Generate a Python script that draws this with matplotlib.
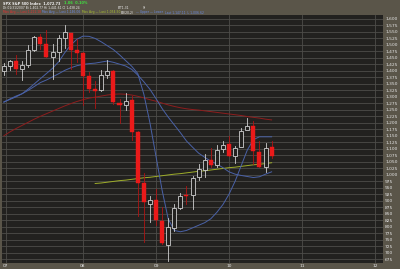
import matplotlib
matplotlib.use("Agg")
import matplotlib.pyplot as plt
from matplotlib.patches import Rectangle

# monthly bars, Dec 2006 .. Aug 2010 (index 0 = Dec 2006)
opens = [1400.6, 1418.0, 1437.9, 1406.8, 1420.8, 1482.4, 1530.6, 1504.7, 1455.2, 1474.0, 1527.3, 1545.8, 1479.6,
         1468.0, 1378.6, 1330.5, 1326.4, 1386.0, 1399.6, 1276.7, 1269.4, 1287.8, 1164.2, 968.7, 888.6,
         903.0, 823.1, 729.6, 793.6, 872.7, 923.3, 920.8, 990.2, 1019.5, 1054.9, 1036.2, 1098.9,
         1116.6, 1073.9, 1105.4, 1171.2, 1188.6, 1087.3, 1031.1, 1107.5]
highs = [1431.8, 1441.6, 1461.6, 1438.9, 1498.0, 1535.6, 1540.6, 1555.9, 1503.9, 1538.7, 1576.1, 1545.8, 1523.6,
         1471.8, 1396.0, 1359.7, 1404.6, 1440.2, 1404.1, 1292.2, 1313.2, 1303.0, 1167.0, 1007.5, 918.9,
         943.9, 875.0, 833.0, 888.7, 930.2, 956.2, 996.7, 1039.5, 1080.2, 1101.4, 1113.7, 1130.4,
         1150.5, 1112.4, 1180.7, 1219.8, 1205.1, 1131.2, 1121.0, 1129.2]
lows = [1385.9, 1404.0, 1389.4, 1364.0, 1416.4, 1476.7, 1484.2, 1454.3, 1370.6, 1439.3, 1489.6, 1406.1, 1435.7,
        1270.1, 1316.8, 1257.0, 1324.4, 1373.1, 1272.0, 1200.4, 1248.6, 1133.5, 839.8, 741.0, 815.7,
        804.2, 734.5, 666.8, 783.3, 866.1, 888.9, 869.3, 978.5, 992.0, 1029.4, 1029.4, 1085.9,
        1071.6, 1044.5, 1105.4, 1170.7, 1040.8, 1028.3, 1010.9, 1066.0]
closes = [1418.3, 1438.2, 1406.8, 1420.9, 1482.4, 1530.6, 1503.4, 1455.3, 1474.0, 1526.8, 1549.4, 1481.1, 1468.4,
          1378.6, 1330.6, 1322.7, 1385.6, 1400.4, 1280.0, 1267.4, 1282.8, 1166.4, 968.8, 896.2, 903.3,
          825.9, 735.1, 797.9, 872.8, 919.1, 919.3, 987.5, 1020.6, 1057.1, 1036.2, 1095.6, 1115.1,
          1073.9, 1104.5, 1169.4, 1186.7, 1089.4, 1030.7, 1101.6, 1072.7]

# overlay lines
ma_red = [1150, 1165, 1178, 1190, 1202, 1214, 1225, 1235, 1245, 1255, 1265, 1274, 1282,
          1289, 1295, 1299, 1303, 1307, 1310, 1311, 1310, 1307, 1302, 1296, 1289,
          1283, 1276, 1269, 1263, 1258, 1254, 1251, 1249, 1246, 1243, 1240, 1237,
          1234, 1231, 1228, 1224, 1221, 1218, 1214, 1211]
ma_slow = [1279, 1292, 1303, 1312, 1325, 1340, 1355, 1365, 1377, 1389, 1402, 1412, 1420,
           1425, 1428, 1430, 1434, 1438, 1433, 1426, 1419, 1406, 1384, 1358, 1329,
           1293, 1255, 1222, 1192, 1162, 1130, 1106, 1083, 1067, 1052, 1041, 1027,
           1011, 1002, 997, 993, 989, 992, 1002, 1011]
ma_fast = [1281, 1290, 1300, 1312, 1330, 1350, 1370, 1390, 1410, 1435, 1470, 1500, 1522,
           1534, 1533, 1525, 1512, 1497, 1482, 1462, 1440, 1418, 1390, 1310, 1200,
           1070, 940, 830, 785, 780, 785, 795, 805, 815, 830, 855, 885,
           925, 975, 1035, 1095, 1135, 1146, 1146, 1146]
# long average only drawn from Mar 2008 on
yellow_start = 15
ma_yellow = [966, 968, 971, 974, 977, 979, 982, 985, 988, 990,
             993, 996, 999, 1002, 1004, 1007, 1010, 1013, 1015, 1018, 1021, 1024,
             1027, 1029, 1032, 1035, 1038, 1040, 1043, 1046]

year_pos = [0.3, 13, 25, 37, 49, 61]
year_labels = ["07", "08", "09", "10", "11", "12"]

FRAME = "#5a5549"
PLOT = "#22211f"
GRID = "#4e4d49"

fig = plt.figure(figsize=(4, 2.69), dpi=100, facecolor=FRAME)
ax = fig.add_axes([2 / 400, 1 - 263 / 269, 381 / 400, 248 / 269])
ax.set_facecolor(PLOT)
ax.set_xlim(-0.31, 62.3)
ax.set_ylim(659.6, 1615.4)

yt = list(range(675, 1601, 25))
ax.set_yticks(yt)
ax.set_yticklabels([f"{v:,}" for v in yt])
ax.yaxis.tick_right()
ax.set_xticks(year_pos)
ax.set_xticklabels(year_labels)
ax.tick_params(length=0, labelsize=3.2, colors="#e6e6e6", pad=1.5)
ax.tick_params(axis="x", pad=1.0)
ax.grid(True, color=GRID, lw=0.6)
ax.set_axisbelow(True)
for s in ax.spines.values():
    s.set_visible(False)

xs = list(range(len(closes)))
ax.plot(xs[yellow_start:], ma_yellow, color="#9fae2a", lw=0.7, zorder=2)
ax.plot(xs, ma_red, color="#8e1d1d", lw=0.7, zorder=2)
ax.plot(xs, ma_slow, color="#4a62a8", lw=0.7, zorder=2)
ax.plot(xs, ma_fast, color="#4a62a8", lw=0.7, zorder=2)

w = 0.66
for i, (o, h, l, c) in enumerate(zip(opens, highs, lows, closes)):
    lo_b, hi_b = min(o, c), max(o, c)
    if c >= o:
        col = "#cfcfcf"
        ax.plot([i, i], [l, lo_b], color=col, lw=0.6, zorder=3)
        ax.plot([i, i], [hi_b, h], color=col, lw=0.6, zorder=3)
        ax.add_patch(Rectangle((i - w / 2, lo_b), w, hi_b - lo_b, facecolor=PLOT,
                               edgecolor=col, lw=0.6, zorder=4))
    else:
        ax.plot([i, i], [l, h], color="#b01414", lw=0.6, zorder=3)
        ax.add_patch(Rectangle((i - w / 2, lo_b), w, hi_b - lo_b, facecolor="#ea1a1a",
                               edgecolor="#ea1a1a", lw=0.3, zorder=4))

# header
def t(x, y, s, c="#f0f0f0", fs=2.4, bold=False):
    fig.text(x / 400, 1 - y / 269, s, color=c, fontsize=fs, va="center", ha="left",
             fontweight="bold" if bold else "normal")

t(3, 3.5, "SPX S&P 500 Index  1,072.73", fs=2.5, bold=True)
t(64, 3.5, "1.06  0.10%", c="#40e040", fs=2.5, bold=True)
t(3, 8, "Dt 01/31/2007 Bi 1,402.77 Hi 1,441.61 Cl 1,438.24", fs=2.2)
t(118, 8, "B/T1-31", fs=2.2)
t(142, 8, "Yr", fs=2.2)
t(3, 12.5, "Mov Avg — Last 1,211.18", c="#e03030", fs=2.2)
t(42, 12.5, "Mov Avg — Last 1,146.06", c="#6a8ae0", fs=2.2)
t(82, 12.5, "Mov Avg — Last 1,054.50", c="#a8c030", fs=2.2)
t(121, 12.5, "BB(20,2)", fs=2.2)
t(136, 12.5, "— Upper — Lower", c="#6a8ae0", fs=2.2)
t(165, 12.5, "Last 1,147.11  L 1,006.62", c="#6a8ae0", fs=2.2)

fig.savefig("out.png", dpi=100, facecolor=FRAME)
